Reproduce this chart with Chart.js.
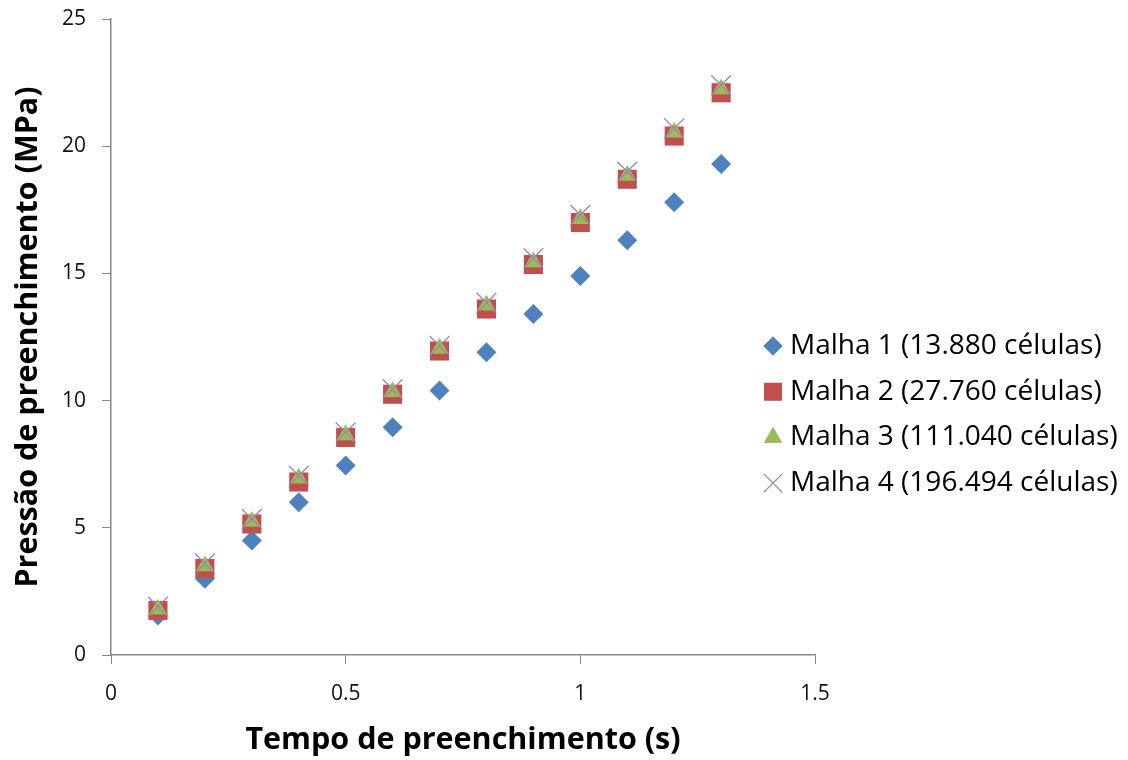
<!DOCTYPE html>
<html>
<head>
<meta charset="utf-8">
<script src="https://cdn.jsdelivr.net/npm/chart.js@4.4.1/dist/chart.umd.min.js"></script>
<style>
  html, body { margin: 0; padding: 0; background: #fff; }
  #wrap { width: 1128px; height: 760px; }
</style>
</head>
<body>
<div id="wrap"><canvas id="myChart" width="1128" height="760"></canvas></div>
<script>
// Data
const tempo = [0.1, 0.2, 0.3, 0.4, 0.5, 0.6, 0.7, 0.8, 0.9, 1.0, 1.1, 1.2, 1.3];
const malha1 = [1.55, 3.0, 4.5, 6.0, 7.45, 8.95, 10.4, 11.9, 13.4, 14.9, 16.3, 17.8, 19.3];
const malha2 = [1.75, 3.4, 5.15, 6.8, 8.55, 10.25, 11.95, 13.6, 15.35, 17.0, 18.7, 20.4, 22.1];
const malha3 = [1.8, 3.5, 5.25, 6.95, 8.65, 10.35, 12.05, 13.75, 15.45, 17.15, 18.85, 20.55, 22.25];
const malha4 = [1.9, 3.6, 5.35, 7.05, 8.75, 10.45, 12.15, 13.85, 15.6, 17.3, 19.0, 20.7, 22.4];
const seriesNames = [
    "Malha 1 (13.880 células)",
    "Malha 2 (27.760 células)",
    "Malha 3 (111.040 células)",
    "Malha 4 (196.494 células)"
];
const xTitle = "Tempo de preenchimento (s)";
const yTitle = "Pressão de preenchimento (MPa)";

const axisColor = "#868686";
const font = "'Open Sans', 'Liberation Sans', sans-serif";

function points(ys) {
    return tempo.map(function (t, i) { return { x: t, y: ys[i] }; });
}

// marker styles for each series (plot size and legend size)
const markers = [
    { style: "rectRot", color: "#4F81BD", radius: 10, legendRadius: 9.5, border: 0 },
    { style: "rect", color: "#C0504D", radius: 13.5, legendRadius: 12.5, border: 0 },
    { style: "triangle", color: "#9BBB59", radius: 10.5, legendRadius: 10.5, border: 0 },
    { style: "crossRot", color: "#9983B8", radius: 14, legendRadius: 13, border: 1.2 }
];
const allSeries = [malha1, malha2, malha3, malha4];

const datasets = allSeries.map(function (ys, i) {
    const m = markers[i];
    return {
        label: seriesNames[i],
        data: points(ys),
        pointStyle: m.style,
        pointRadius: m.radius,
        pointHoverRadius: m.radius,
        backgroundColor: m.color,
        borderColor: m.color,
        pointBorderWidth: m.border,
        showLine: false,
        order: allSeries.length - i // later series drawn on top
    };
});

// Legend drawn on the right side, like the original
const sideLegend = {
    id: "sideLegend",
    afterDraw: function (chart) {
        const ctx = chart.ctx;
        const x0 = 773, xText = 790;
        const yStart = 346, step = 45.7;
        ctx.save();
        ctx.font = "28px " + font;
        ctx.textBaseline = "middle";
        ctx.textAlign = "left";
        for (let i = 0; i < seriesNames.length; i++) {
            const m = markers[i];
            const y = yStart + i * step;
            ctx.fillStyle = m.color;
            ctx.strokeStyle = m.color;
            ctx.lineWidth = m.border || 0;
            Chart.helpers.drawPoint(ctx, {
                pointStyle: m.style,
                radius: m.legendRadius,
                rotation: 0,
                borderWidth: m.border
            }, x0, y);
            if (m.style !== "crossRot") ctx.fill();
            ctx.fillStyle = "#000";
            ctx.fillText(seriesNames[i], xText, y);
        }
        ctx.restore();
    }
};

const ctx = document.getElementById("myChart").getContext("2d");
const myChart = new Chart(ctx, {
    type: "scatter",
    data: { datasets: datasets },
    options: {
        responsive: false,
        animation: false,
        layout: { padding: { top: 19, right: 313, left: 0, bottom: 0 } },
        plugins: {
            legend: { display: false },
            tooltip: { enabled: false }
        },
        scales: {
            x: {
                type: "linear",
                min: 0,
                max: 1.5,
                afterFit: function (s) { s.height = 105; },
                ticks: {
                    stepSize: 0.5,
                    color: "#111",
                    padding: 17,
                    font: { family: font, size: 21 },
                    callback: function (v) { return String(v); }
                },
                grid: { drawOnChartArea: false, drawTicks: true, tickLength: 9, color: axisColor },
                border: { color: axisColor, width: 1.5 },
                title: {
                    display: true,
                    text: xTitle,
                    color: "#000",
                    padding: { top: 0, bottom: 1 },
                    font: { family: font, size: 30.5, weight: "bold" }
                }
            },
            y: {
                type: "linear",
                min: 0,
                max: 25,
                afterFit: function (s) { s.width = 111; s.paddingTop = 0; s.paddingBottom = 0; },
                ticks: {
                    stepSize: 5,
                    color: "#111",
                    padding: 16,
                    font: { family: font, size: 21 }
                },
                grid: { drawOnChartArea: false, drawTicks: true, tickLength: 9, color: axisColor },
                border: { color: axisColor, width: 1.5 },
                title: {
                    display: true,
                    text: yTitle,
                    color: "#000",
                    padding: { top: 10, bottom: 10 },
                    font: { family: font, size: 30.5, weight: "bold" }
                }
            }
        }
    },
    plugins: [sideLegend]
});
</script>
</body>
</html>
